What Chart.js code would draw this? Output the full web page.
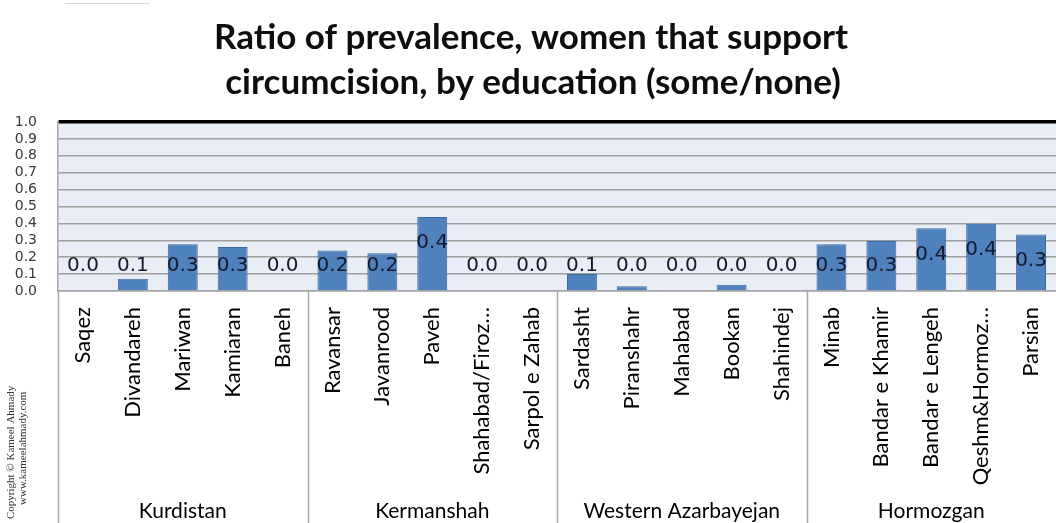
<!DOCTYPE html>
<html>
<head>
<meta charset="utf-8">
<script src="https://cdn.jsdelivr.net/npm/chart.js@4/dist/chart.umd.min.js"></script>
<style>
  html, body { margin: 0; padding: 0; background: #ffffff; overflow: hidden; }
  #wrap { width: 1056px; height: 523px; }
  canvas { display: block; }
</style>
</head>
<body>
<div id="wrap"><canvas id="c" width="1056" height="523"></canvas></div>
<script>
const titleLines = ['Ratio of prevalence, women that support', 'circumcision, by education (some/none)'];
const categories = ['Saqez', 'Divandareh', 'Mariwan', 'Kamiaran', 'Baneh',
  'Ravansar', 'Javanrood', 'Paveh', 'Shahabad/Firoz…', 'Sarpol e Zahab',
  'Sardasht', 'Piranshahr', 'Mahabad', 'Bookan', 'Shahindej',
  'Minab', 'Bandar e Khamir', 'Bandar e Lengeh', 'Qeshm&Hormoz…', 'Parsian'];
const values = [0, 0.073, 0.276, 0.26, 0,
  0.24, 0.223, 0.438, 0, 0,
  0.10, 0.028, 0, 0.037, 0,
  0.276, 0.296, 0.371, 0.398, 0.335];
const groups = ['Kurdistan', 'Kermanshah', 'Western Azarbayejan', 'Hormozgan'];
const groupSizes = [5, 5, 5, 5];
const yTicks = [0, 0.1, 0.2, 0.3, 0.4, 0.5, 0.6, 0.7, 0.8, 0.9, 1.0];
const copyrightLines = ['Copyright © Kameel Ahmady', 'www.kameelahmady.com'];

const bgPlugin = {
  id: 'plotBg',
  beforeDraw(chart) {
    const { ctx, chartArea: a } = chart;
    ctx.save();
    ctx.fillStyle = '#ffffff';
    ctx.fillRect(0, 0, chart.width, chart.height);
    ctx.fillStyle = '#e9edf5';
    ctx.fillRect(a.left, a.top, a.right - a.left, a.bottom - a.top);
    ctx.restore();
  }
};

const labelPlugin = {
  id: 'valueLabels',
  afterDatasetsDraw(chart) {
    const { ctx } = chart;
    const y = chart.scales.y;
    const meta = chart.getDatasetMeta(0);
    const base = y.getPixelForValue(0);
    ctx.save();
    ctx.font = '20px "DejaVu Sans"';
    ctx.fillStyle = '#141a2e';
    ctx.textAlign = 'center';
    ctx.textBaseline = 'middle';
    values.forEach((v, i) => {
      const top = y.getPixelForValue(v);
      const cy = Math.min(top + 26, base - 25);
      ctx.fillText(v.toFixed(1), meta.data[i].x, cy);
    });
    ctx.restore();
  }
};

const decoPlugin = {
  id: 'deco',
  afterDraw(chart) {
    const { ctx, chartArea: a } = chart;
    const x = chart.scales.x;
    const half = (x.getPixelForValue(1) - x.getPixelForValue(0)) / 2;
    ctx.save();
    // group separators
    ctx.strokeStyle = '#a6a6a6';
    ctx.lineWidth = 1.5;
    let idx = 0;
    const bounds = [x.getPixelForValue(0) - half];
    groupSizes.forEach(n => { idx += n; bounds.push(x.getPixelForValue(idx - 1) + half); });
    bounds.forEach((bx, k) => {
      if (k === bounds.length - 1) return;
      ctx.beginPath();
      ctx.moveTo(Math.round(bx) + 0.5, a.bottom);
      ctx.lineTo(Math.round(bx) + 0.5, chart.height);
      ctx.stroke();
    });
    // group labels
    ctx.font = '21px Lato';
    ctx.fillStyle = '#000000';
    ctx.textAlign = 'center';
    ctx.textBaseline = 'alphabetic';
    groups.forEach((g, k) => {
      ctx.fillText(g, (bounds[k] + bounds[k + 1]) / 2, 518);
    });
    // title
    ctx.font = 'bold 35px Lato';
    ctx.fillStyle = '#0d0d0d';
    ctx.fillText(titleLines[0], 531, 49);
    ctx.fillText(titleLines[1], 533, 94);
    // faint top-left line
    ctx.strokeStyle = '#d9d9d9';
    ctx.lineWidth = 1;
    ctx.beginPath();
    ctx.moveTo(65, 3.5);
    ctx.lineTo(150, 3.5);
    ctx.stroke();
    // copyright
    ctx.translate(0, 519);
    ctx.rotate(-Math.PI / 2);
    ctx.textAlign = 'left';
    ctx.fillStyle = '#333333';
    ctx.font = '11px "Liberation Serif"';
    ctx.fillText(copyrightLines[0], 0, 14);
    ctx.fillText(copyrightLines[1], 14, 26);
    ctx.restore();
  }
};

new Chart(document.getElementById('c'), {
  type: 'bar',
  data: {
    labels: categories,
    datasets: [{
      data: values,
      backgroundColor: '#4f81bd',
      borderColor: '#3b6aa3',
      borderWidth: 1,
      barPercentage: 0.6,
      categoryPercentage: 1.0
    }]
  },
  options: {
    responsive: false,
    animation: false,
    devicePixelRatio: 1,
    layout: { padding: { top: 122, left: 0, right: 0, bottom: 0 } },
    plugins: {
      legend: { display: false },
      title: { display: false },
      tooltip: { enabled: false }
    },
    scales: {
      x: {
        grid: { display: false, drawTicks: false },
        border: { display: true, color: '#a6a6a6', width: 1.5 },
        ticks: {
          autoSkip: false,
          minRotation: 90,
          maxRotation: 90,
          padding: 16,
          color: '#000000',
          font: { family: 'Lato', size: 22 }
        },
        afterFit(s) { s.height = 232; s.paddingLeft = 0; s.paddingRight = 0; }
      },
      y: {
        min: 0,
        max: 1,
        afterBuildTicks(s) { s.ticks = yTicks.map(v => ({ value: v })); },
        grid: {
          drawTicks: false,
          color: c => (c.tick && Math.abs(c.tick.value - 1) < 1e-6) ? '#000000' : '#a0a0a0',
          lineWidth: c => (c.tick && Math.abs(c.tick.value - 1) < 1e-6) ? 3.5 : 1.5
        },
        border: { display: true, color: '#a6a6a6', width: 1.5 },
        ticks: {
          autoSkip: false,
          padding: 21,
          color: '#3a3a3a',
          font: { family: 'DejaVu Sans', size: 14 },
          callback: v => Number(v).toFixed(1)
        },
        afterFit(s) { s.width = 58; }
      }
    }
  },
  plugins: [bgPlugin, labelPlugin, decoPlugin]
});
</script>
</body>
</html>
